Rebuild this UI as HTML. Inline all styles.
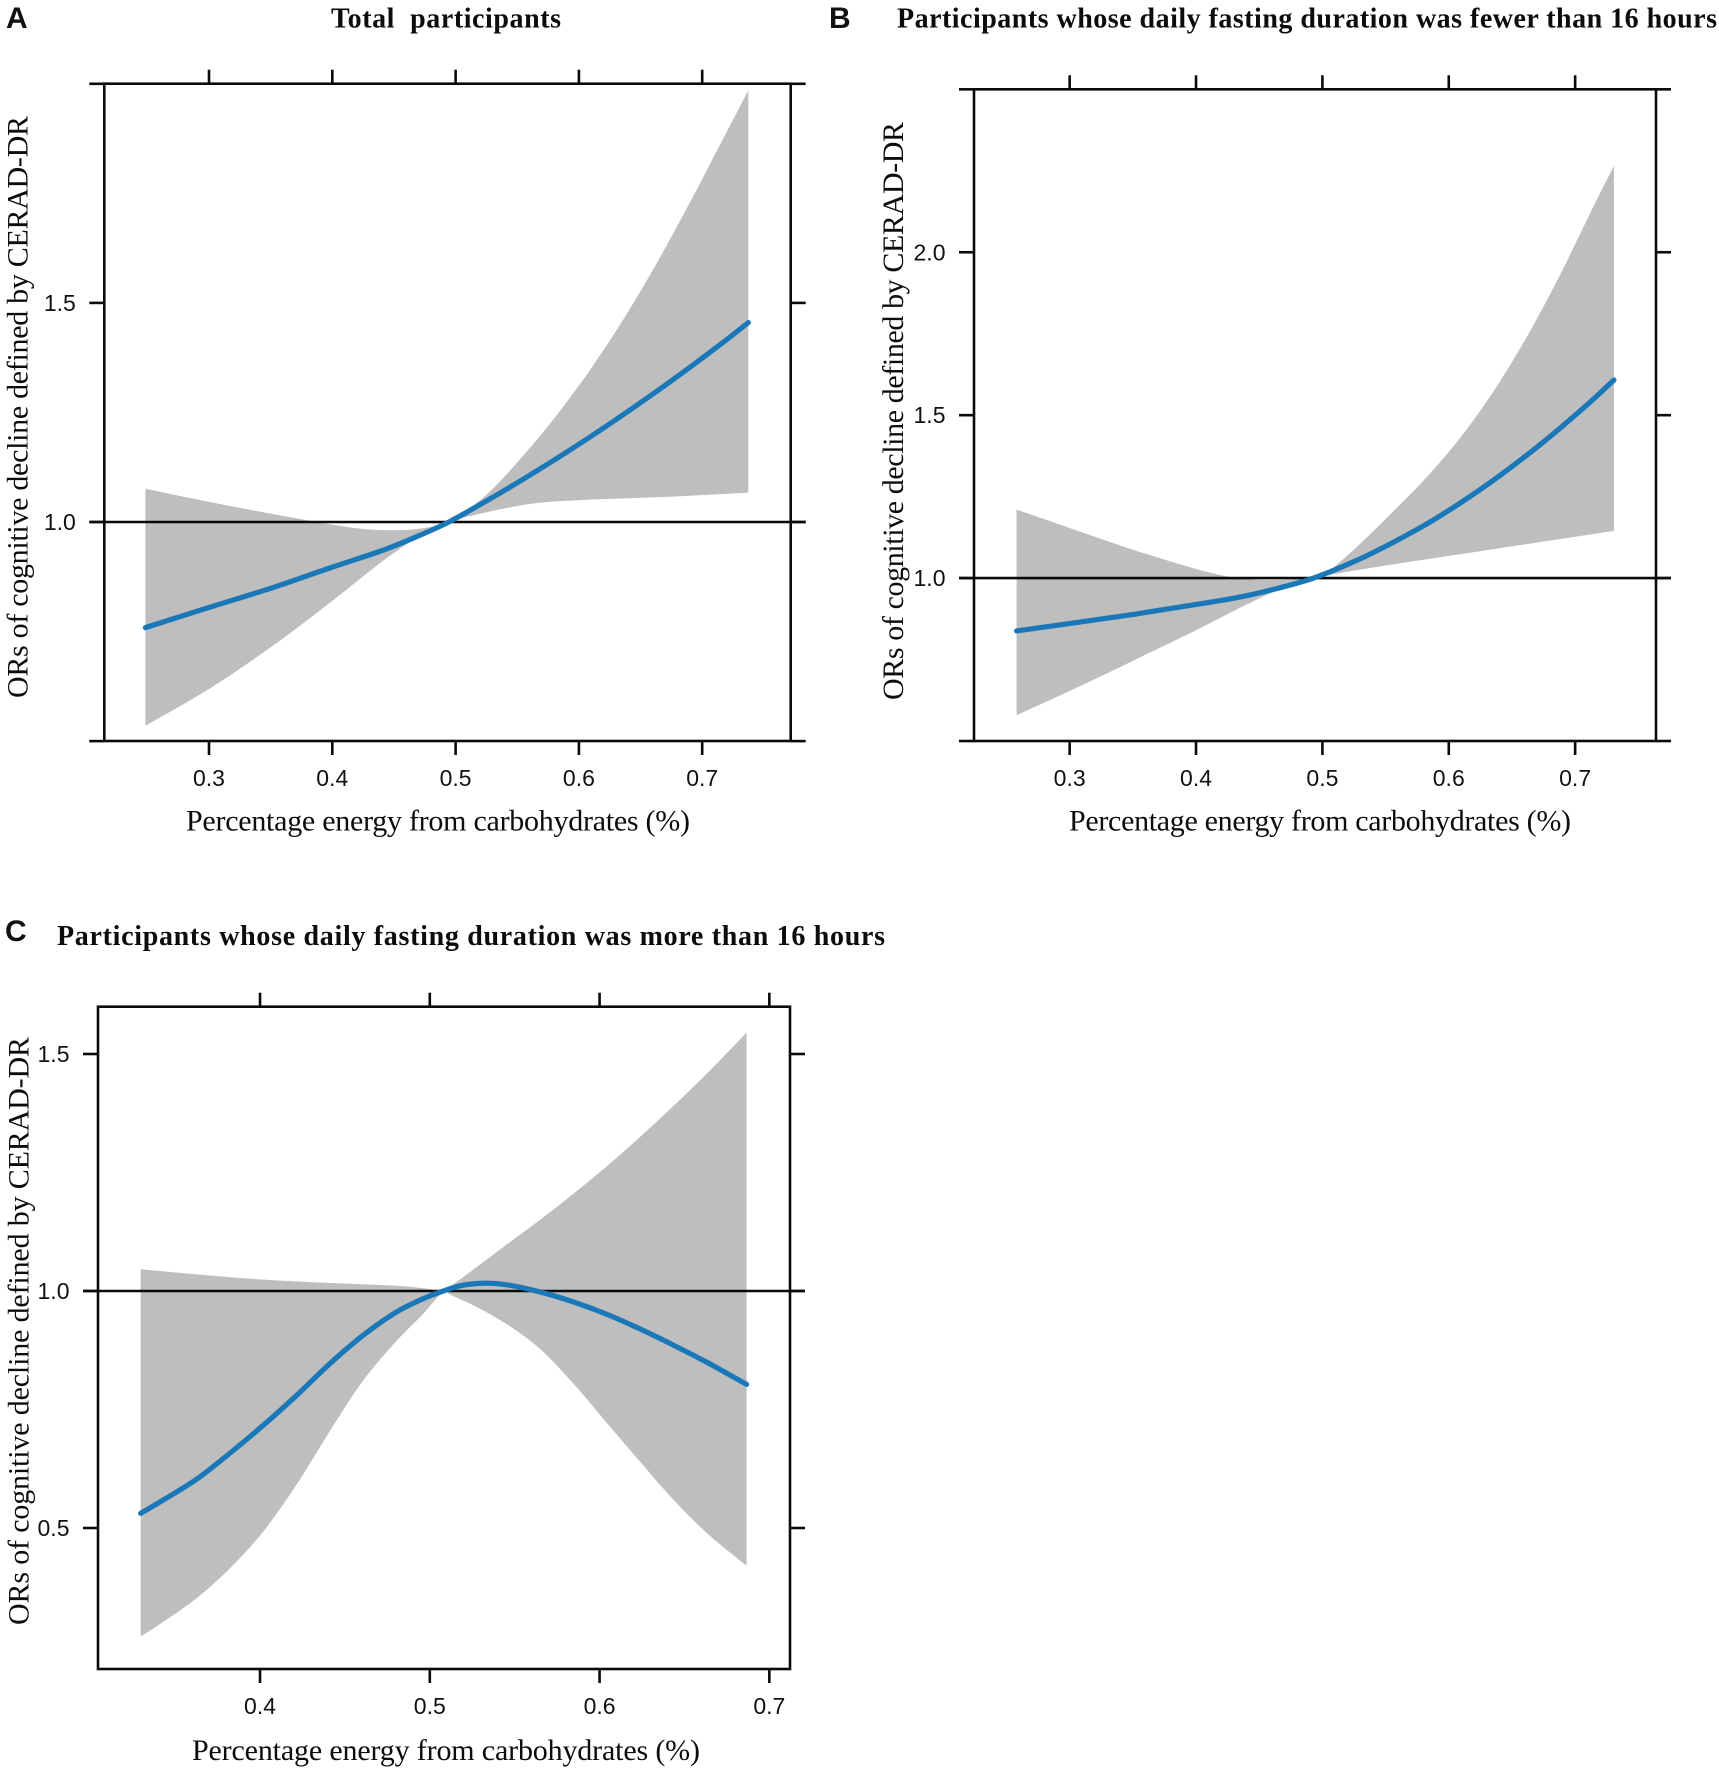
<!DOCTYPE html>
<html lang="en">
<head>
<meta charset="utf-8">
<title>Odds ratios of cognitive decline by carbohydrate energy percentage</title>
<style>
  html, body { margin: 0; padding: 0; background: #fff; }
  svg { display: block; }
  .serif { font-family: "Liberation Serif", serif; fill: #0c0c0c; }
  .sans { font-family: "Liberation Sans", sans-serif; fill: #111; }
  .title { font-weight: 700; font-size: 28px; }
  .axis-title { font-size: 30px; }
  .letter { font-weight: 700; font-size: 30px; }
  .tick-label { font-size: 23px; }
</style>
</head>
<body>
<svg id="chart" xmlns="http://www.w3.org/2000/svg" width="1719" height="1772" viewBox="0 0 1719 1772">
  <rect width="1719" height="1772" fill="#ffffff"/>

  <text class="sans letter" x="6" y="28">A</text>
  <text class="serif title" x="331" y="27.5" textLength="230" lengthAdjust="spacing" xml:space="preserve">Total  participants</text>
  <text class="serif axis-title" x="186" y="830.5" textLength="504" lengthAdjust="spacing">Percentage energy from carbohydrates (%)</text>
  <text class="serif axis-title" transform="translate(27.5,698) rotate(-90)" textLength="582" lengthAdjust="spacing">ORs of cognitive decline defined by CERAD-DR</text>

  <text class="sans letter" x="829" y="28">B</text>
  <text class="serif title" x="897" y="27.5" textLength="820" lengthAdjust="spacing">Participants whose daily fasting duration was fewer than 16 hours</text>
  <text class="serif axis-title" x="1069" y="830.5" textLength="502" lengthAdjust="spacing">Percentage energy from carbohydrates (%)</text>
  <text class="serif axis-title" transform="translate(903,700) rotate(-90)" textLength="578" lengthAdjust="spacing">ORs of cognitive decline defined by CERAD-DR</text>

  <text class="sans letter" x="5" y="941">C</text>
  <text class="serif title" x="57" y="945" textLength="828" lengthAdjust="spacing">Participants whose daily fasting duration was more than 16 hours</text>
  <text class="serif axis-title" x="192" y="1760" textLength="508" lengthAdjust="spacing">Percentage energy from carbohydrates (%)</text>
  <text class="serif axis-title" transform="translate(28.5,1625) rotate(-90)" textLength="588" lengthAdjust="spacing">ORs of cognitive decline defined by CERAD-DR</text>
</svg>

<script>
/* ---------- Panel A values ---------- */
const aXTicks = [0.3, 0.4, 0.5, 0.6, 0.7];
const aXLabels = ['0.3', '0.4', '0.5', '0.6', '0.7'];
const aYTicks = [0.5, 1.0, 1.5, 2.0];
const aYLabels = ['', '1.0', '1.5', ''];
const aUpperX = [0.2484, 0.3, 0.35, 0.4, 0.43, 0.46, 0.48, 0.4945, 0.5036, 0.528, 0.555, 0.582, 0.609, 0.636, 0.663, 0.69, 0.717, 0.7374];
const aUpperY = [1.076, 1.046, 1.019, 0.994, 0.983, 0.982, 0.989, 1.0, 1.015, 1.07, 1.152, 1.244, 1.347, 1.462, 1.59, 1.729, 1.875, 1.985];
const aCentralX = [0.2484, 0.3, 0.3525, 0.4, 0.4415, 0.468, 0.4945, 0.528, 0.555, 0.582, 0.609, 0.636, 0.663, 0.69, 0.717, 0.7374];
const aCentralY = [0.759, 0.805, 0.851, 0.897, 0.936, 0.966, 1.0, 1.053, 1.098, 1.145, 1.194, 1.245, 1.298, 1.353, 1.41, 1.455];
const aLowerX = [0.2484, 0.3, 0.3525, 0.4, 0.4415, 0.47, 0.4945, 0.5143, 0.5414, 0.568, 0.609, 0.6766, 0.7374];
const aLowerY = [0.535, 0.619, 0.719, 0.82, 0.912, 0.966, 1.0, 1.015, 1.032, 1.044, 1.051, 1.058, 1.067];

/* ---------- Panel B values ---------- */
const bXTicks = [0.3, 0.4, 0.5, 0.6, 0.7];
const bXLabels = ['0.3', '0.4', '0.5', '0.6', '0.7'];
const bYTicks = [0.5, 1.0, 1.5, 2.0, 2.5];
const bYLabels = ['', '1.0', '1.5', '2.0', ''];
const bUpperX = [0.258, 0.308, 0.351, 0.4, 0.425, 0.447, 0.473, 0.493, 0.506, 0.5298, 0.5561, 0.5825, 0.6089, 0.6352, 0.6617, 0.688, 0.7144, 0.7307];
const bUpperY = [1.21, 1.143, 1.086, 1.028, 1.005, 0.995, 0.995, 1.0, 1.025, 1.105, 1.205, 1.31, 1.43, 1.572, 1.74, 1.93, 2.14, 2.265];
const bCentralX = [0.258, 0.308, 0.351, 0.4, 0.4337, 0.464, 0.493, 0.5298, 0.5561, 0.5825, 0.6089, 0.6352, 0.6617, 0.688, 0.7144, 0.7307];
const bCentralY = [0.838, 0.865, 0.889, 0.919, 0.941, 0.968, 1.0, 1.059, 1.11, 1.166, 1.23, 1.3, 1.377, 1.46, 1.549, 1.608];
const bLowerX = [0.258, 0.308, 0.351, 0.4, 0.438, 0.464, 0.493, 0.506, 0.5298, 0.5693, 0.6221, 0.6748, 0.7307];
const bLowerY = [0.579, 0.668, 0.748, 0.84, 0.915, 0.962, 1.0, 1.01, 1.026, 1.05, 1.081, 1.112, 1.145];

/* ---------- Panel C values ---------- */
const cXTicks = [0.4, 0.5, 0.6, 0.7];
const cXLabels = ['0.4', '0.5', '0.6', '0.7'];
const cYTicks = [0.5, 1.0, 1.5];
const cYLabels = ['0.5', '1.0', '1.5'];
const cUpperX = [0.3297, 0.3627, 0.402, 0.4412, 0.4805, 0.498, 0.5085, 0.5119, 0.5256, 0.5453, 0.5649, 0.5845, 0.6042, 0.6238, 0.6434, 0.663, 0.6866];
const cUpperY = [1.046, 1.035, 1.024, 1.017, 1.011, 1.005, 1.0, 1.009, 1.045, 1.098, 1.15, 1.205, 1.263, 1.325, 1.39, 1.458, 1.545];
const cCentralX = [0.3297, 0.343, 0.3627, 0.3823, 0.402, 0.4216, 0.4412, 0.4609, 0.4805, 0.4962, 0.508, 0.5178, 0.5315, 0.5453, 0.5649, 0.5845, 0.6042, 0.6238, 0.6434, 0.663, 0.6866];
const cCentralY = [0.531, 0.559, 0.603, 0.658, 0.717, 0.78, 0.847, 0.907, 0.956, 0.984, 1.0, 1.011, 1.0164, 1.013, 0.998, 0.977, 0.951, 0.92, 0.886, 0.85, 0.803];
const cLowerX = [0.3297, 0.343, 0.3627, 0.3823, 0.402, 0.4216, 0.4412, 0.4609, 0.4805, 0.4962, 0.5085, 0.5119, 0.5256, 0.5453, 0.5649, 0.5845, 0.6042, 0.6238, 0.6434, 0.663, 0.6866];
const cLowerY = [0.271, 0.302, 0.352, 0.415, 0.493, 0.592, 0.705, 0.812, 0.895, 0.952, 1.0, 0.9923, 0.97, 0.93, 0.878, 0.805, 0.722, 0.64, 0.56, 0.49, 0.42];

const SVG_NS = 'http://www.w3.org/2000/svg';
const chart = document.getElementById('chart');

function shape(tag, attrs, parent) {
  const el = document.createElementNS(SVG_NS, tag);
  Object.keys(attrs).forEach(function (k) { el.setAttribute(k, attrs[k]); });
  parent.appendChild(el);
  return el;
}

/* Cubic Hermite through screen points with spacing-aware tangents */
function splineSegments(pts) {
  const n = pts.length;
  const slope = function (a, b) { return (pts[b][1] - pts[a][1]) / (pts[b][0] - pts[a][0]); };
  const tangent = function (i) {
    if (i === 0) return slope(0, 1);
    if (i === n - 1) return slope(n - 2, n - 1);
    return slope(i - 1, i + 1);
  };
  let d = '';
  for (let i = 0; i < n - 1; i++) {
    const h = pts[i + 1][0] - pts[i][0];
    const c1x = pts[i][0] + h / 3;
    const c1y = pts[i][1] + tangent(i) * h / 3;
    const c2x = pts[i + 1][0] - h / 3;
    const c2y = pts[i + 1][1] - tangent(i + 1) * h / 3;
    d += ' C' + c1x.toFixed(2) + ' ' + c1y.toFixed(2) + ' ' + c2x.toFixed(2) + ' ' + c2y.toFixed(2) + ' ' + pts[i + 1][0].toFixed(2) + ' ' + pts[i + 1][1].toFixed(2);
  }
  return d;
}

function drawPanel(p) {
  const sx = function (v) { return p.xRefPx + (v - p.xRefVal) * p.xScale; };
  const sy = function (v) { return p.yRefPx - (v - 1) * p.yScale; };
  const pairs = function (xs, ys) { return xs.map(function (x, i) { return [sx(x), sy(ys[i])]; }); };
  const stroke = '#0a0a0a';
  const sw = 2.6;

  const g = shape('g', {}, chart);
  
  

  /* confidence band */
  const up = pairs(p.upperX, p.upperY);
  const low = pairs(p.lowerX, p.lowerY).reverse();
  const bandPath = 'M' + up[0][0].toFixed(2) + ' ' + up[0][1].toFixed(2) + splineSegments(up) +
    ' L' + low[0][0].toFixed(2) + ' ' + low[0][1].toFixed(2) + splineSegments(low) + ' Z';
  const band = shape('path', { d: bandPath, fill: '#bebebe', stroke: 'none' }, g);
  
  

  /* frame */
  const frame = shape('rect', { x: p.left, y: p.top, width: p.right - p.left, height: p.bottom - p.top, fill: 'none', stroke: stroke, 'stroke-width': sw }, g);
  
  

  /* x ticks and labels */
  p.xTicks.forEach(function (v, i) {
    const x = sx(v);
    const top = shape('line', { x1: x, x2: x, y1: p.top, y2: p.top - 14, stroke: stroke, 'stroke-width': sw }, g);
    
    
    const bottom = shape('line', { x1: x, x2: x, y1: p.bottom, y2: p.bottom + 14, stroke: stroke, 'stroke-width': sw }, g);
    
    
    const label = shape('text', { x: x, y: p.bottom + 45, 'text-anchor': 'middle', class: 'sans tick-label' }, g);
    label.textContent = p.xLabels[i];
    
    
  });

  /* y ticks and labels */
  p.yTicks.forEach(function (v, i) {
    const y = sy(v);
    const left = shape('line', { x1: p.left, x2: p.left - 15, y1: y, y2: y, stroke: stroke, 'stroke-width': sw }, g);
    
    
    const right = shape('line', { x1: p.right, x2: p.right + 15, y1: y, y2: y, stroke: stroke, 'stroke-width': sw }, g);
    
    
    if (p.yLabels[i]) {
      const label = shape('text', { x: p.left - 28.5, y: y + 8, 'text-anchor': 'end', class: 'sans tick-label' }, g);
      label.textContent = p.yLabels[i];
      
      
    }
  });

  /* reference line at OR = 1 */
  const ref = shape('line', { x1: p.left - 15, x2: p.right + 15, y1: sy(1), y2: sy(1), stroke: stroke, 'stroke-width': sw }, g);
  
  

  /* central estimate */
  const mid = pairs(p.centralX, p.centralY);
  const linePath = 'M' + mid[0][0].toFixed(2) + ' ' + mid[0][1].toFixed(2) + splineSegments(mid);
  const curve = shape('path', { d: linePath, fill: 'none', stroke: '#1b78b8', 'stroke-width': 5.2, 'stroke-linecap': 'round', 'stroke-linejoin': 'round' }, g);
  
  
}

drawPanel({
  id: 'panel-a', left: 104.3, right: 790.7, top: 83.7, bottom: 741,
  xRefVal: 0.5, xRefPx: 455.6, xScale: 1233, yRefPx: 522, yScale: 438.2,
  xTicks: aXTicks, xLabels: aXLabels, yTicks: aYTicks, yLabels: aYLabels,
  upperX: aUpperX, upperY: aUpperY, centralX: aCentralX, centralY: aCentralY, lowerX: aLowerX, lowerY: aLowerY
});
drawPanel({
  id: 'panel-b', left: 974, right: 1656, top: 89.3, bottom: 741,
  xRefVal: 0.5, xRefPx: 1322.4, xScale: 1263.7, yRefPx: 578.1, yScale: 325.85,
  xTicks: bXTicks, xLabels: bXLabels, yTicks: bYTicks, yLabels: bYLabels,
  upperX: bUpperX, upperY: bUpperY, centralX: bCentralX, centralY: bCentralY, lowerX: bLowerX, lowerY: bLowerY
});
drawPanel({
  id: 'panel-c', left: 98, right: 790, top: 1006.7, bottom: 1669,
  xRefVal: 0.5, xRefPx: 429.8, xScale: 1697.7, yRefPx: 1291, yScale: 474,
  xTicks: cXTicks, xLabels: cXLabels, yTicks: cYTicks, yLabels: cYLabels,
  upperX: cUpperX, upperY: cUpperY, centralX: cCentralX, centralY: cCentralY, lowerX: cLowerX, lowerY: cLowerY
});
</script>
</body>
</html>
